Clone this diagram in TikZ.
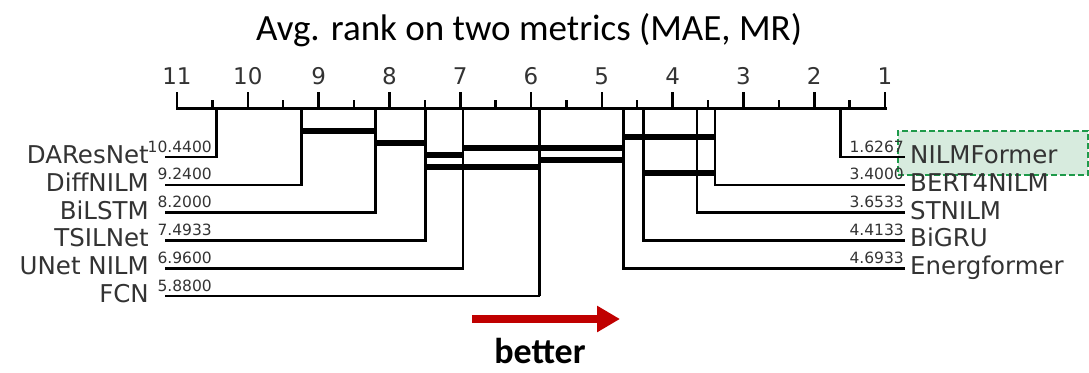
\documentclass[tikz,border=0pt]{standalone}
\usepackage{fontspec}
\setmainfont{DejaVu Sans}
\newfontfamily\calfont{Carlito}
\usetikzlibrary{arrows.meta}
\definecolor{txt}{HTML}{333333}
\definecolor{hlgreen}{HTML}{1E9A4A}
\definecolor{hlfill}{HTML}{D7EBDE}
\definecolor{arrred}{HTML}{C00000}
\begin{document}
\begin{tikzpicture}[x=1pt,y=-1pt,
  declare function={rx(\r)=885-(\r-1)*70.8;},
  namel/.style={font=\fontsize{24.5}{24.5}\selectfont, text=txt, inner sep=0pt, anchor=base east},
  namer/.style={font=\fontsize{24.5}{24.5}\selectfont, text=txt, inner sep=0pt, anchor=base west},
  val/.style={font=\fontsize{15.5}{15.5}\selectfont, text=txt, inner sep=0pt, anchor=base east},
  ticklab/.style={font=\fontsize{23}{23}\selectfont, text=txt, inner sep=0pt, anchor=base},
  conn/.style={line width=2.6pt, line join=miter},
  thinconn/.style={line width=1.4pt, line join=miter},
  bar/.style={line width=5.5pt},
  axisline/.style={line width=3pt, line cap=rect},
  majortick/.style={line width=2.6pt},
  minortick/.style={line width=2.4pt},
  hlbox/.style={draw=hlgreen, fill=hlfill, line width=1.8pt, dash pattern=on 6pt off 3pt},
  betterarrow/.style={draw=arrred, line width=8pt, -{Triangle[length=23pt,width=25pt]}}
]
\useasboundingbox (0,0) rectangle (1089,372);

% title
\node[font=\calfont\fontsize{37}{37}\selectfont, inner sep=0pt, anchor=base] (title) at (529,40) {Avg. rank on two metrics (MAE, MR)};

% axis
\coordinate (axL) at ({rx(11)},108);
\coordinate (axR) at ({rx(1)},108);
\draw[axisline] (axL) -- (axR);
\foreach \i in {1,...,11}{
  \draw[majortick] ({rx(\i)},92) -- ({rx(\i)},108);
  \node[ticklab] (tick\i) at ({rx(\i)},84) {\i};
}
\foreach \i in {1.5,2.5,...,10.5}{
  \draw[minortick] ({rx(\i)},100) -- ({rx(\i)},108);
}

% highlight box
\node[hlbox, minimum width=190pt, minimum height=44pt, inner sep=0pt, anchor=north west] (hl) at (897,130) {};

% left methods
\foreach \nm/\r/\y/\lab/\v in {
  daresnet/10.44/157/DAResNet/10.4400,
  diffnilm/9.24/184.8/DiffNILM/9.2400,
  bilstm/8.2/212.6/BiLSTM/8.2000,
  tsilnet/7.4933/240.4/TSILNet/7.4933,
  unet/6.96/268.2/UNet NILM/6.9600}{
  \coordinate (\nm-t) at ({rx(\r)},108);
  \coordinate (\nm-e) at (165,\y);
  \draw[conn] (\nm-t) |- (\nm-e);
  \node[namel] (\nm-name) at (149,\y+6.5) {\lab};
  \node[val] (\nm-val) at (212,\y-5) {\v};
}
\coordinate (fcn-t) at ({rx(5.88)},108);
\coordinate (fcn-c) at ({rx(5.88)},296);
\coordinate (fcn-e) at (165,296);
\draw[conn] (fcn-t) -- (fcn-c);
\draw[thinconn] (fcn-c) -- (fcn-e);
\node[namel] (fcn-name) at (149,302.5) {FCN};
\node[val] (fcn-val) at (212,291) {5.8800};

% right methods
\foreach \nm/\r/\y/\lab/\v in {
  nilmformer/1.6267/157/NILMFormer/1.6267,
  bert/3.4/184.8/BERT4NILM/3.4000,
  stnilm/3.6533/212.6/STNILM/3.6533,
  bigru/4.4133/240.4/BiGRU/4.4133,
  energ/4.6933/268.2/Energformer/4.6933}{
  \coordinate (\nm-t) at ({rx(\r)},108);
  \coordinate (\nm-e) at (905,\y);
  \draw[conn] (\nm-t) |- (\nm-e);
  \node[namer] (\nm-name) at (910,\y+6.5) {\lab};
  \node[val] (\nm-val) at (904,\y-5) {\v};
}

% clique bars
\draw[bar] ({rx(9.24)},131) -- ({rx(8.2)},131);
\draw[bar] ({rx(8.2)},143) -- ({rx(7.4933)},143);
\draw[bar] ({rx(4.6933)},137) -- ({rx(3.4)},137);
\draw[bar] ({rx(6.96)},148) -- ({rx(4.6933)},148);
\draw[bar] ({rx(7.4933)},155) -- ({rx(6.96)},155);
\draw[bar] ({rx(5.88)},160) -- ({rx(4.6933)},160);
\draw[bar] ({rx(7.4933)},167) -- ({rx(5.88)},167);
\draw[bar] ({rx(4.4133)},173) -- ({rx(3.4)},173);

% better arrow
\coordinate (arrS) at (472,319);
\coordinate (arrE) at (620,319);
\draw[betterarrow] (arrS) -- (arrE);
\node[font=\calfont\bfseries\fontsize{36}{36}\selectfont, inner sep=0pt, anchor=base] (better) at (540,363) {better};
\end{tikzpicture}
\end{document}
